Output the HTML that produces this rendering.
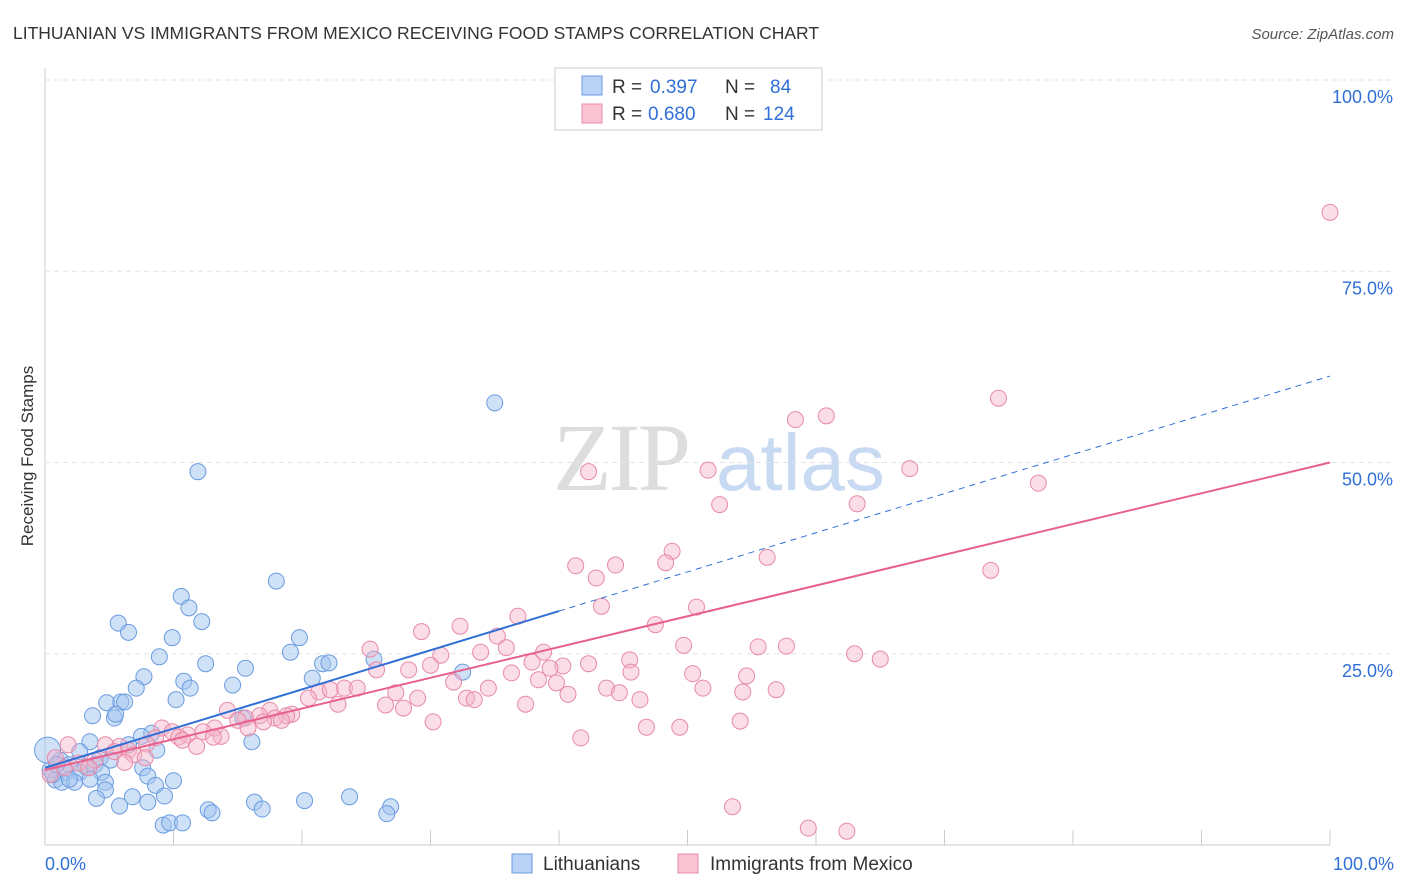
<!DOCTYPE html>
<html><head><meta charset="utf-8"><style>
body{margin:0;background:#fff;font-family:"Liberation Sans",sans-serif}
#wrap{position:relative;width:1406px;height:892px;overflow:hidden}
</style></head><body>
<div id="wrap">
<svg id="svg" width="1406" height="892" xmlns="http://www.w3.org/2000/svg">
<text x="13" y="39" font-size="17.5" fill="#333">LITHUANIAN VS IMMIGRANTS FROM MEXICO RECEIVING FOOD STAMPS CORRELATION CHART</text>
<text x="1394" y="39" font-size="15" fill="#555" font-style="italic" text-anchor="end">Source: ZipAtlas.com</text>
<text transform="translate(33,456) rotate(-90)" font-size="17" fill="#333" text-anchor="middle">Receiving Food Stamps</text>
<g><text x="553" y="490" font-size="96" font-family="Liberation Serif" fill="#ddd" letter-spacing="-3">ZIP</text><text x="716" y="490" font-size="80" fill="#c8daf2">atlas</text></g>
<g id="grid"></g><g id="pts"></g><g id="lines"></g>
<g>
<rect x="555" y="68" width="267" height="62" fill="#fff" stroke="#ccc"/>
<rect x="582" y="76" width="20" height="19" fill="#b8d3f5" stroke="#6a9be0"/>
<rect x="582" y="104" width="20" height="19" fill="#fac4d5" stroke="#e88aa8"/>
<text x="612" y="93" font-size="19" fill="#333">R =</text><text x="650" y="93" font-size="19" fill="#2f6fd6">0.397</text>
<text x="725" y="93" font-size="19" fill="#333">N =</text><text x="770" y="93" font-size="19" fill="#2f6fd6">84</text>
<text x="612" y="120" font-size="19" fill="#333">R =</text><text x="648" y="120" font-size="19" fill="#2f6fd6">0.680</text>
<text x="725" y="120" font-size="19" fill="#333">N =</text><text x="763" y="120" font-size="19" fill="#2f6fd6">124</text>
</g>
<g>
<rect x="512" y="854" width="20" height="19" fill="#b8d3f5" stroke="#6a9be0"/>
<text x="543" y="870" font-size="19" fill="#333">Lithuanians</text>
<rect x="678" y="854" width="20" height="19" fill="#fac4d5" stroke="#e88aa8"/>
<text x="710" y="870" font-size="19" fill="#333">Immigrants from Mexico</text>
</g>
<text x="45" y="870" font-size="18" fill="#2f6fd6">0.0%</text>
<text x="1394" y="870" font-size="18" fill="#2f6fd6" text-anchor="end">100.0%</text>
</svg></div>
<script>
const yTicks=[25,50,75,100];
const yTickLabels=["25.0%","50.0%","75.0%","100.0%"];
const xTicks=[0,10,20,30,40,50,60,70,80,90,100];
const blueX=[35.0,11.9,18.0,10.6,11.2,12.2,5.7,6.5,9.9,19.8,19.1,8.9,25.6,12.5,21.6,22.1,32.5,15.6,7.7,20.8,10.8,11.3,14.6,7.1,4.8,5.9,6.2,10.2,3.7,5.4,5.5,15.4,8.3,7.5,16.1,3.5,6.5,8.7,2.7,4.3,5.1,3.9,1.2,1.9,3.2,7.6,0.4,1.6,2.7,4.4,8.0,0.8,1.3,2.3,4.7,10.0,8.6,4.7,4.0,6.8,9.3,5.8,8.0,16.3,20.2,23.7,12.7,16.9,26.9,26.6,13.0,9.2,9.7,10.7,0.2,0.6,0.9,1.9,3.5];
const blueY=[57.8,48.8,34.5,32.5,31.0,29.2,29.0,27.8,27.1,27.1,25.2,24.6,24.3,23.7,23.7,23.8,22.6,23.1,22.0,21.8,21.4,20.5,20.9,20.5,18.6,18.7,18.7,19.0,16.9,16.6,17.1,16.6,14.6,14.2,13.5,13.5,13.1,12.4,12.2,11.4,11.1,10.5,11.1,10.5,10.2,10.1,9.8,9.5,9.5,9.5,9.0,8.5,8.2,8.2,8.2,8.4,7.8,7.2,6.1,6.3,6.4,5.1,5.6,5.6,5.8,6.3,4.6,4.7,5.0,4.1,4.2,2.6,2.9,2.9,12.4,9.2,10.5,8.6,8.6];
const pinkX=[100,74.2,60.8,58.4,67.3,51.6,42.3,77.3,52.5,63.2,48.8,56.2,48.3,41.3,44.4,73.6,42.9,43.3,50.7,36.8,47.5,32.3,29.3,35.2,49.7,35.9,25.3,57.7,55.5,38.8,63.0,65.0,45.5,30.8,33.9,37.9,40.3,30.0,25.8,39.3,28.3,45.6,36.3,50.4,54.6,31.8,38.4,39.8,34.5,43.7,51.2,56.9,44.7,54.3,23.3,24.3,21.3,22.2,40.7,20.5,27.3,32.8,33.4,29.0,46.3,22.8,26.5,27.9,37.4,17.5,14.2,19.2,18.8,16.7,15.6,15.0,17.9,17.0,18.4,30.2,54.1,15.8,13.2,46.8,49.4,9.1,12.3,9.9,11.1,10.4,13.7,13.1,8.6,10.7,7.9,11.8,5.8,4.7,1.8,41.7,6.5,5.4,6.9,7.8,3.9,0.8,6.2,2.6,1.5,3.4,0.4,53.5,59.4,62.4,42.3];
const pinkY=[82.7,58.4,56.1,55.6,49.2,49.0,48.8,47.3,44.5,44.6,38.4,37.6,36.9,36.5,36.6,35.9,34.9,31.2,31.1,29.9,28.8,28.6,27.9,27.3,26.1,25.8,25.6,26.0,25.9,25.2,25.0,24.3,24.2,24.8,25.2,23.9,23.4,23.5,22.9,23.1,22.9,22.6,22.5,22.4,22.1,21.3,21.6,21.2,20.5,20.5,20.5,20.3,19.9,20.0,20.5,20.5,20.0,20.3,19.7,19.2,19.9,19.2,19.0,19.2,19.0,18.4,18.3,17.9,18.4,17.6,17.6,17.1,16.9,16.9,16.6,16.3,16.6,16.1,16.3,16.1,16.2,15.3,15.3,15.4,15.4,15.3,14.8,14.8,14.4,14.1,14.2,14.1,14.0,13.7,13.2,12.9,12.9,13.1,13.1,14.0,12.4,12.2,11.8,11.4,11.1,11.4,10.8,10.7,10.1,10.1,9.2,5.0,2.2,1.8,23.7];
const blueFit=[10.1,61.3];
const pinkFit=[9.8,50.0];
const NS="http://www.w3.org/2000/svg";
const X=v=>45+v*12.85, Y=v=>845-v*7.65;
function mk(t,a,p){const e=document.createElementNS(NS,t);for(const k in a)e.setAttribute(k,a[k]);p.appendChild(e);return e;}
const grid=document.getElementById('grid');
mk('line',{x1:45,y1:68,x2:45,y2:845,stroke:'#ccc'},grid);
mk('line',{x1:45,y1:845,x2:1330,y2:845,stroke:'#ccc'},grid);
yTicks.forEach((t,i)=>{
 const l=mk('line',{x1:45,y1:Y(t),x2:1394,y2:Y(t),stroke:'#e3e3e3','stroke-dasharray':'5,4'},grid);
 
 
 const tx=mk('text',{x:1393,y:Y(t)+23,'font-size':18,fill:'#2f6fd6','text-anchor':'end'},grid);
 tx.textContent=yTickLabels[i];
 
 
});
xTicks.forEach(t=>{
 const l=mk('line',{x1:X(t),y1:830,x2:X(t),y2:845,stroke:'#ccc'},grid);
 
 
});
const pts=document.getElementById('pts');
blueX.forEach((x,i)=>{
 const c=mk('circle',{cx:X(x),cy:Y(blueY[i]),r:(i===74?13:8),fill:'rgba(160,195,240,0.5)',stroke:'#6a9be0','stroke-width':1},pts);
 
 
});
pinkX.forEach((x,i)=>{
 const c=mk('circle',{cx:X(x),cy:Y(pinkY[i]),r:8,fill:'rgba(245,180,200,0.45)',stroke:'#e88aa8','stroke-width':1},pts);
 
 
});
const lines=document.getElementById('lines');
const by=x=>blueFit[0]+(blueFit[1]-blueFit[0])*x/100;
const py=x=>pinkFit[0]+(pinkFit[1]-pinkFit[0])*x/100;
const b1=mk('line',{x1:X(0),y1:Y(by(0)),x2:X(40),y2:Y(by(40)),stroke:'#2f6fd6','stroke-width':2},lines);


const b2=mk('line',{x1:X(40),y1:Y(by(40)),x2:X(100),y2:Y(by(100)),stroke:'#2f6fd6','stroke-width':1,'stroke-dasharray':'6,5'},lines);


const p1=mk('line',{x1:X(0),y1:Y(py(0)),x2:X(100),y2:Y(py(100)),stroke:'#e8608e','stroke-width':2},lines);


</script>
</body></html>
